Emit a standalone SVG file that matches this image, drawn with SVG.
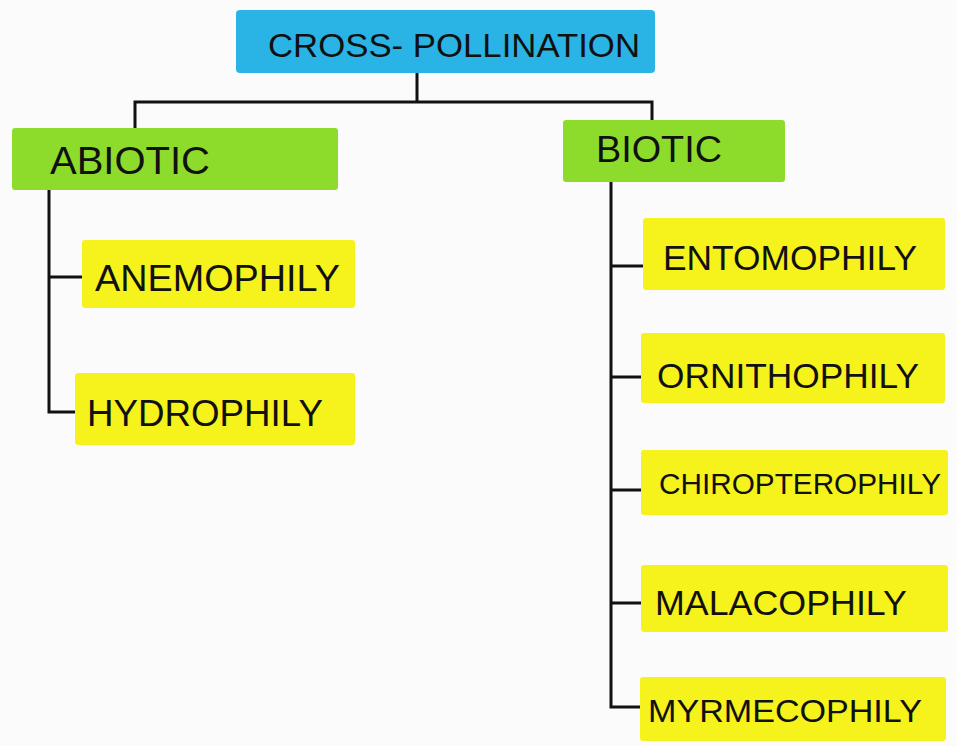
<svg xmlns="http://www.w3.org/2000/svg" width="957" height="746" viewBox="0 0 957 746">
<style>
.lbl{font-family:"Liberation Sans","DejaVu Sans",sans-serif;fill:#111;font-weight:normal}
.blue{fill:#2ab4e6}
.green{fill:#8ddc2c}
.yellow{fill:#f6f21c}
.conn{stroke:#111;stroke-width:3;fill:none;stroke-linecap:square}
</style>
<rect width="957" height="746" fill="#fbfbfb"/>
<g id="connectors">
<path class="conn" d="M417 74 V102 M135 102 H652 M135 102 V128 M652 102 V120"/>
<path class="conn" d="M49 190 V412 H75 M49 277 H82"/>
<path class="conn" d="M611 182 V707 H640 M611 266 H643 M611 377 H641 M611 490 H641 M611 603 H641"/>
</g>
<g id="cross-pollination">
<rect class="blue" x="236" y="10" width="419" height="63" rx="4"/>
<text class="lbl" x="268" y="57" font-size="34" textLength="372" lengthAdjust="spacingAndGlyphs">CROSS- POLLINATION</text>
</g>
<g id="abiotic">
<rect class="green" x="12" y="128" width="326" height="62" rx="3"/>
<text class="lbl" x="50" y="174" font-size="39" textLength="160" lengthAdjust="spacingAndGlyphs">ABIOTIC</text>
</g>
<g id="biotic">
<rect class="green" x="563" y="120" width="222" height="62" rx="3"/>
<text class="lbl" x="596" y="162" font-size="37" textLength="126" lengthAdjust="spacingAndGlyphs">BIOTIC</text>
</g>
<g id="anemophily">
<rect class="yellow" x="82" y="240" width="273" height="68" rx="3"/>
<text class="lbl" x="95" y="291" font-size="37" textLength="245" lengthAdjust="spacingAndGlyphs">ANEMOPHILY</text>
</g>
<g id="hydrophily">
<rect class="yellow" x="75" y="373" width="280" height="72" rx="3"/>
<text class="lbl" x="87" y="426" font-size="36" textLength="236" lengthAdjust="spacingAndGlyphs">HYDROPHILY</text>
</g>
<g id="entomophily">
<rect class="yellow" x="643" y="218" width="302" height="72" rx="3"/>
<text class="lbl" x="663" y="270" font-size="35" textLength="254" lengthAdjust="spacingAndGlyphs">ENTOMOPHILY</text>
</g>
<g id="ornithophily">
<rect class="yellow" x="641" y="333" width="304" height="70" rx="3"/>
<text class="lbl" x="657" y="388" font-size="35" textLength="262" lengthAdjust="spacingAndGlyphs">ORNITHOPHILY</text>
</g>
<g id="chiropterophily">
<rect class="yellow" x="641" y="450" width="307" height="65" rx="3"/>
<text class="lbl" x="659" y="494" font-size="29" textLength="282" lengthAdjust="spacingAndGlyphs">CHIROPTEROPHILY</text>
</g>
<g id="malacophily">
<rect class="yellow" x="641" y="565" width="307" height="67" rx="3"/>
<text class="lbl" x="655" y="615" font-size="35" textLength="252" lengthAdjust="spacingAndGlyphs">MALACOPHILY</text>
</g>
<g id="myrmecophily">
<rect class="yellow" x="640" y="677" width="306" height="64" rx="3"/>
<text class="lbl" x="648" y="722" font-size="32" textLength="274" lengthAdjust="spacingAndGlyphs">MYRMECOPHILY</text>
</g>
</svg>
